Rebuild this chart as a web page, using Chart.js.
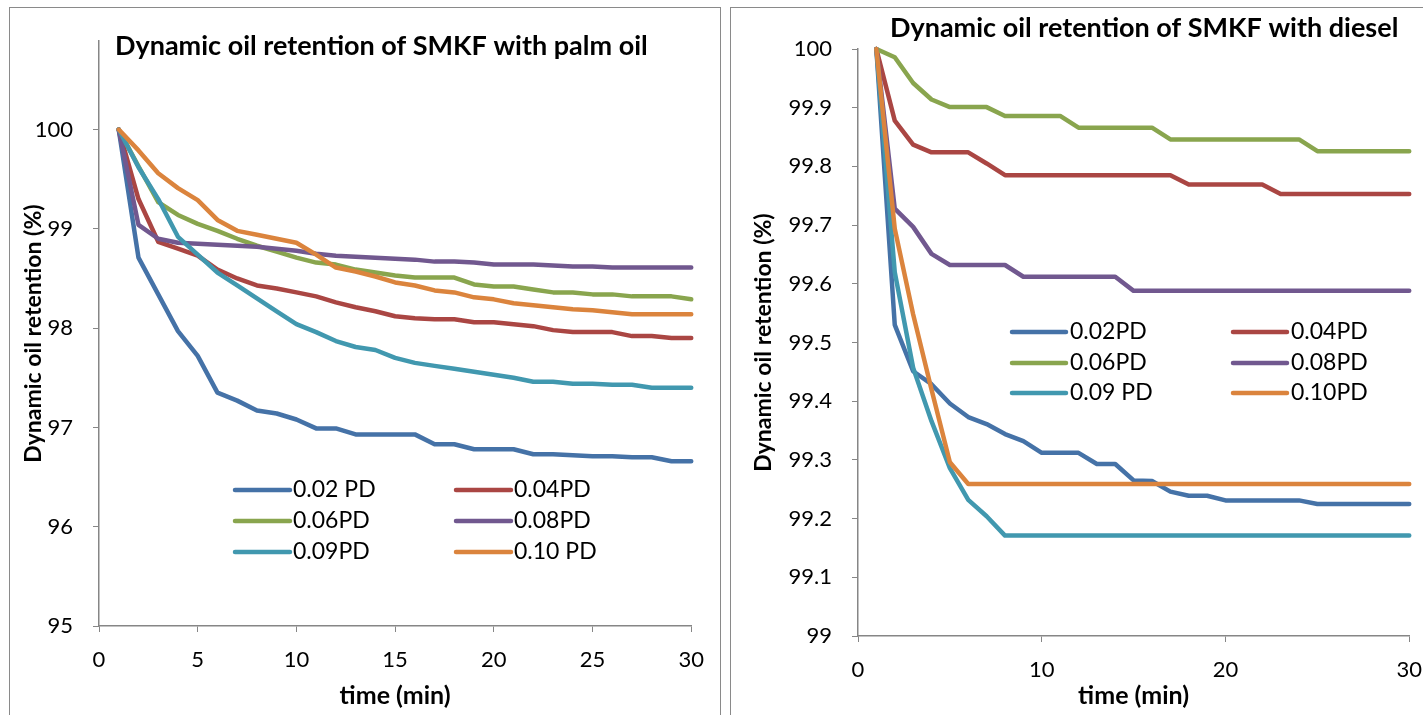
<!DOCTYPE html>
<html>
<head>
<meta charset="utf-8">
<title>Dynamic oil retention of SMKF</title>
<script src="https://cdn.jsdelivr.net/npm/chart.js@4"></script>
<style>
  html, body { margin: 0; padding: 0; background: #fff; overflow: hidden; }
  .panel { position: absolute; border: 1px solid #8a8a8a; border-bottom: none; box-sizing: border-box; }
  canvas { position: absolute; }
</style>
</head>
<body>
<div class="panel" style="left:9px; top:7px; width:712px; height:730px;"></div>
<div class="panel" style="left:730px; top:7px; width:720px; height:730px;"></div>
<canvas id="palm" width="709" height="707" style="left:10px; top:8px;"></canvas>
<canvas id="diesel" width="706" height="707" style="left:731px; top:8px;"></canvas>
<script>
// time (min)
const times = [1, 2, 3, 4, 5, 6, 7, 8, 9, 10, 11, 12, 13, 14, 15, 16, 17, 18, 19, 20, 21, 22, 23, 24, 25, 26, 27, 28, 29, 30];

// palm oil
const palmLabels = ['0.02 PD', '0.04PD', '0.06PD', '0.08PD', '0.09PD', '0.10 PD'];
const palm002 = [100, 98.71, 98.34, 97.97, 97.72, 97.35, 97.27, 97.17, 97.14, 97.08, 96.99, 96.99, 96.93, 96.93, 96.93, 96.93, 96.83, 96.83, 96.78, 96.78, 96.78, 96.73, 96.73, 96.72, 96.71, 96.71, 96.70, 96.70, 96.66, 96.66];
const palm004 = [100, 99.30, 98.87, 98.80, 98.73, 98.59, 98.50, 98.43, 98.40, 98.36, 98.32, 98.26, 98.21, 98.17, 98.12, 98.10, 98.09, 98.09, 98.06, 98.06, 98.04, 98.02, 97.98, 97.96, 97.96, 97.96, 97.92, 97.92, 97.90, 97.90];
const palm006 = [100, 99.63, 99.27, 99.14, 99.05, 98.98, 98.90, 98.83, 98.77, 98.71, 98.66, 98.64, 98.59, 98.56, 98.53, 98.51, 98.51, 98.51, 98.44, 98.42, 98.42, 98.39, 98.36, 98.36, 98.34, 98.34, 98.32, 98.32, 98.32, 98.29];
const palm008 = [100, 99.04, 98.90, 98.86, 98.85, 98.84, 98.83, 98.82, 98.80, 98.78, 98.75, 98.73, 98.72, 98.71, 98.70, 98.69, 98.67, 98.67, 98.66, 98.64, 98.64, 98.64, 98.63, 98.62, 98.62, 98.61, 98.61, 98.61, 98.61, 98.61];
const palm009 = [100, 99.62, 99.30, 98.92, 98.74, 98.56, 98.43, 98.30, 98.17, 98.04, 97.96, 97.87, 97.81, 97.78, 97.70, 97.65, 97.62, 97.59, 97.56, 97.53, 97.50, 97.46, 97.46, 97.44, 97.44, 97.43, 97.43, 97.40, 97.40, 97.40];
const palm010 = [100, 99.79, 99.56, 99.41, 99.29, 99.09, 98.98, 98.94, 98.90, 98.86, 98.74, 98.61, 98.57, 98.52, 98.46, 98.43, 98.38, 98.36, 98.31, 98.29, 98.25, 98.23, 98.21, 98.19, 98.18, 98.16, 98.14, 98.14, 98.14, 98.14];

// diesel
const dieselLabels = ['0.02PD', '0.04PD', '0.06PD', '0.08PD', '0.09 PD', '0.10PD'];
const diesel002 = [100, 99.530, 99.451, 99.429, 99.396, 99.373, 99.361, 99.344, 99.332, 99.312, 99.312, 99.312, 99.293, 99.293, 99.265, 99.264, 99.246, 99.239, 99.239, 99.231, 99.231, 99.231, 99.231, 99.231, 99.225, 99.225, 99.225, 99.225, 99.225, 99.225];
const diesel004 = [100, 99.878, 99.837, 99.824, 99.824, 99.824, 99.805, 99.785, 99.785, 99.785, 99.785, 99.785, 99.785, 99.785, 99.785, 99.785, 99.785, 99.769, 99.769, 99.769, 99.769, 99.769, 99.753, 99.753, 99.753, 99.753, 99.753, 99.753, 99.753, 99.753];
const diesel006 = [100, 99.986, 99.942, 99.914, 99.901, 99.901, 99.901, 99.886, 99.886, 99.886, 99.886, 99.866, 99.866, 99.866, 99.866, 99.866, 99.846, 99.846, 99.846, 99.846, 99.846, 99.846, 99.846, 99.846, 99.826, 99.826, 99.826, 99.826, 99.826, 99.826];
const diesel008 = [100, 99.728, 99.697, 99.651, 99.632, 99.632, 99.632, 99.632, 99.612, 99.612, 99.612, 99.612, 99.612, 99.612, 99.588, 99.588, 99.588, 99.588, 99.588, 99.588, 99.588, 99.588, 99.588, 99.588, 99.588, 99.588, 99.588, 99.588, 99.588, 99.588];
const diesel009 = [100, 99.620, 99.457, 99.366, 99.286, 99.232, 99.204, 99.171, 99.171, 99.171, 99.171, 99.171, 99.171, 99.171, 99.171, 99.171, 99.171, 99.171, 99.171, 99.171, 99.171, 99.171, 99.171, 99.171, 99.171, 99.171, 99.171, 99.171, 99.171, 99.171];
const diesel010 = [100, 99.694, 99.548, 99.420, 99.296, 99.259, 99.259, 99.259, 99.259, 99.259, 99.259, 99.259, 99.259, 99.259, 99.259, 99.259, 99.259, 99.259, 99.259, 99.259, 99.259, 99.259, 99.259, 99.259, 99.259, 99.259, 99.259, 99.259, 99.259, 99.259];

// tick labels
const palmXTicks = [0, 5, 10, 15, 20, 25, 30];
const palmYTicks = [95, 96, 97, 98, 99, 100];
const dieselXTicks = [0, 10, 20, 30];
const dieselYTicks = [99, 99.1, 99.2, 99.3, 99.4, 99.5, 99.6, 99.7, 99.8, 99.9, 100];

const colors = ['#4572A7', '#AA4643', '#89A54E', '#71588F', '#4198AF', '#DB843D'];
const FONT = 'Lato, "Open Sans", sans-serif';
const AXIS = '#868686';

// titulo e legenda desenhados na area do grafico (como no Excel)
const panelTitle = {
  id: 'panelTitle',
  afterDraw(chart, args, o) {
    const ctx = chart.ctx;
    ctx.save();
    ctx.font = 'bold ' + o.size + 'px ' + FONT;
    ctx.fillStyle = '#000';
    ctx.textBaseline = 'middle';
    ctx.fillText(o.text, o.x, o.y);
    ctx.restore();
  }
};

const gridLegend = {
  id: 'gridLegend',
  afterDatasetsDraw(chart, args, o) {
    const ctx = chart.ctx;
    ctx.save();
    ctx.font = o.size + 'px ' + FONT;
    ctx.textBaseline = 'middle';
    chart.data.datasets.forEach((ds, i) => {
      const x = o.cols[i % 2], y = o.rows[Math.floor(i / 2)];
      ctx.strokeStyle = ds.borderColor;
      ctx.lineWidth = ds.borderWidth;
      ctx.lineCap = 'round';
      ctx.beginPath();
      ctx.moveTo(x, y);
      ctx.lineTo(x + o.len, y);
      ctx.stroke();
      ctx.fillStyle = '#000';
      ctx.fillText(ds.label, x + o.len + o.gap, y);
    });
    ctx.restore();
  }
};

function makeChart(id, labels, series, cfg) {
  const datasets = series.map((vals, i) => ({
    label: labels[i],
    data: times.map((t, j) => ({ x: t, y: vals[j] })),
    borderColor: colors[i],
    backgroundColor: colors[i],
    borderWidth: 4.5,
    pointRadius: 0,
    tension: 0,
    borderJoinStyle: 'round',
    borderCapStyle: 'round',
    clip: false,
    order: series.length - i
  }));

  return new Chart(document.getElementById(id), {
    type: 'line',
    data: { datasets: datasets },
    options: {
      responsive: false,
      animation: false,
      devicePixelRatio: 1,
      layout: { padding: { left: 0, top: cfg.top, right: cfg.right, bottom: 0 } },
      plugins: {
        legend: { display: false },
        tooltip: { enabled: false },
        panelTitle: cfg.title,
        gridLegend: cfg.legend
      },
      scales: {
        x: {
          type: 'linear',
          min: 0,
          max: 30,
          afterBuildTicks: s => { s.ticks = cfg.xTicks.map(v => ({ value: v })); },
          afterFit: s => { s.height = cfg.xHeight; },
          grid: { drawOnChartArea: false, color: AXIS, tickLength: 6 },
          border: { color: AXIS, width: 1.5 },
          ticks: { color: '#000', padding: 15, maxRotation: 0, font: { family: FONT, size: 22 } },
          title: {
            display: true,
            text: 'time (min)',
            color: '#000',
            padding: { top: 0, bottom: 4 },
            font: { family: FONT, size: 25, weight: 'bold' }
          }
        },
        y: {
          min: cfg.yMin,
          max: cfg.yMax,
          afterBuildTicks: s => { s.ticks = cfg.yTicks.map(v => ({ value: v })); },
          afterFit: s => { s.width = cfg.yWidth; },
          grid: { drawOnChartArea: false, color: AXIS, tickLength: 6 },
          border: { color: AXIS, width: 1.5 },
          ticks: {
            color: '#000',
            padding: 20,
            font: { family: FONT, size: 22 },
            callback: v => String(+v.toFixed(1))
          },
          title: {
            display: true,
            text: 'Dynamic oil retention (%)',
            color: '#000',
            padding: { top: cfg.yTitlePad, bottom: 0 },
            font: { family: FONT, size: 23, weight: 'bold' }
          }
        }
      }
    },
    plugins: [panelTitle, gridLegend]
  });
}

makeChart('palm', palmLabels, [palm002, palm004, palm006, palm008, palm009, palm010], {
  top: 31, right: 27, xHeight: 89, yWidth: 89, yTitlePad: 10,
  yMin: 95, yMax: 100.89,
  xTicks: palmXTicks, yTicks: palmYTicks,
  title: { text: 'Dynamic oil retention of SMKF with palm oil', x: 105, y: 38, size: 27 },
  legend: { cols: [225, 446], rows: [482, 513, 544], len: 55, gap: 3, size: 23 }
});

// canvas passa da borda da janela: o "30" fica cortado como no original
makeChart('diesel', dieselLabels, [diesel002, diesel004, diesel006, diesel008, diesel009, diesel010], {
  top: 41, right: 0, xHeight: 79, yWidth: 127, yTitlePad: 19,
  yMin: 99, yMax: 100,
  xTicks: dieselXTicks, yTicks: dieselYTicks,
  title: { text: 'Dynamic oil retention of SMKF with diesel', x: 159, y: 20, size: 27 },
  legend: { cols: [281, 502], rows: [324, 355, 385], len: 54, gap: 4, size: 23 }
});
</script>
</body>
</html>
